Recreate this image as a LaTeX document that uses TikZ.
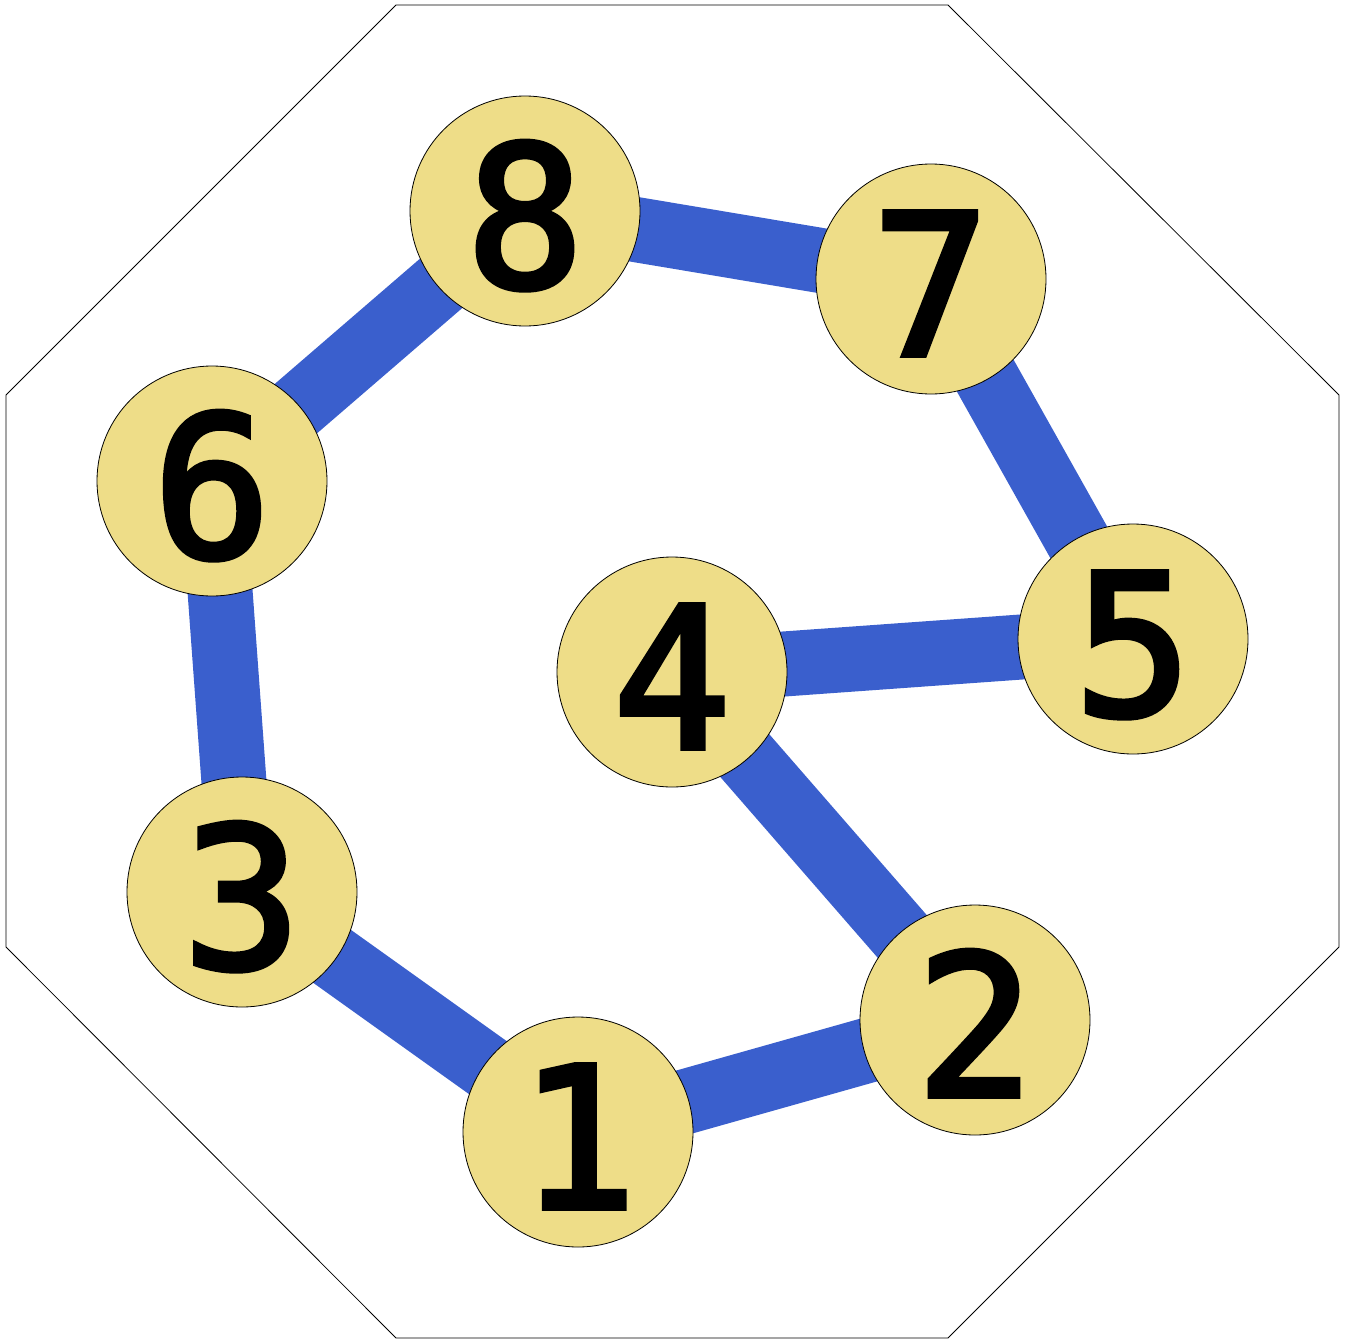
\documentclass[tikz,border=0pt]{standalone}
\usepackage{fontspec}
\newfontfamily\digitfont[FakeBold=3]{DejaVu Sans Mono}
\pgfdeclarelayer{bg}
\pgfsetlayers{bg,main}
\definecolor{edgeblue}{RGB}{58,95,205}
\definecolor{nodeyellow}{RGB}{238,221,136}
\tikzset{
  vertex/.style={circle, draw=black, line width=0.8pt, fill=nodeyellow,
    minimum size=230pt, inner sep=0pt, text height=152pt, text depth=0pt,
    font=\digitfont\fontsize{196}{196}\selectfont},
  link/.style={draw=edgeblue, line width=65pt},
  frame/.style={draw=black, line width=0.8pt}
}
\begin{document}
\begin{tikzpicture}[x=1pt,y=-1pt]
\useasboundingbox (0,0) rectangle (1346,1338);
\draw[frame] (396,5) -- (948,5) -- (1339,395) -- (1339,947) -- (948,1338) -- (396,1338) -- (6,947) -- (6,395) -- cycle;
\node[vertex] (n8) at (525,211) {8};
\node[vertex] (n7) at (931,279) {7};
\node[vertex] (n6) at (212,481) {6};
\node[vertex] (n5) at (1133,639) {5};
\node[vertex] (n4) at (672,672) {4};
\node[vertex] (n3) at (242,892) {3};
\node[vertex] (n2) at (975,1020) {2};
\node[vertex] (n1) at (578,1132) {1};
\begin{pgfonlayer}{bg}
\draw[link] (n8.center) -- (n7.center);
\draw[link] (n8.center) -- (n6.center);
\draw[link] (n6.center) -- (n3.center);
\draw[link] (n3.center) -- (n1.center);
\draw[link] (n1.center) -- (n2.center);
\draw[link] (n2.center) -- (n4.center);
\draw[link] (n4.center) -- (n5.center);
\draw[link] (n5.center) -- (n7.center);
\end{pgfonlayer}
\end{tikzpicture}
\end{document}
